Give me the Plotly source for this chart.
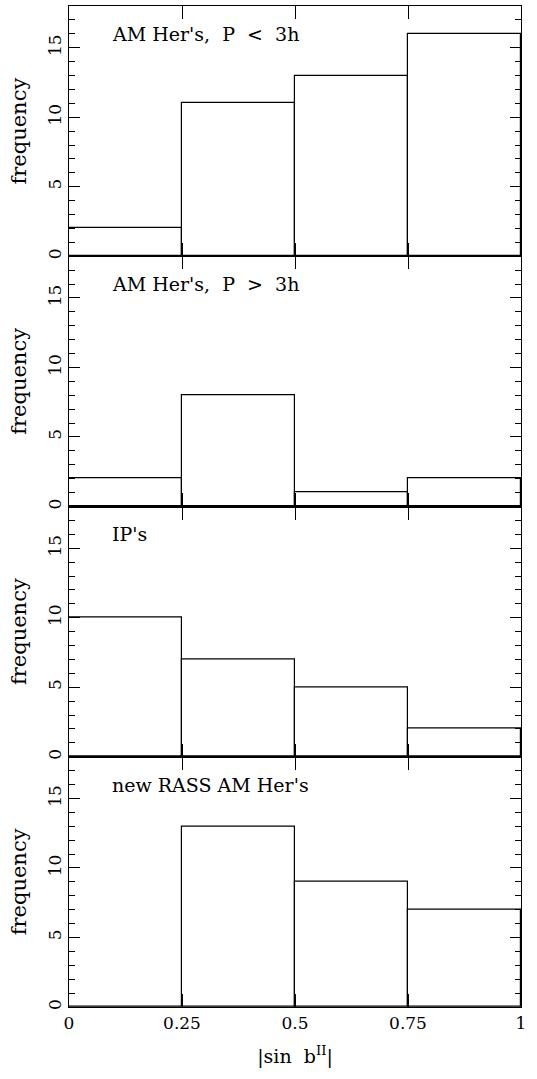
import plotly.graph_objects as go

bin_centers = [0.125, 0.375, 0.625, 0.875]
bin_width = 0.25
panel_labels = ["AM Her's,  P  <  3h", "AM Her's,  P  >  3h", "IP's", "new RASS AM Her's"]
counts_short = [2, 11, 13, 16]
counts_long = [2, 8, 1, 2]
counts_ip = [10, 7, 5, 2]
counts_rass = [0, 13, 9, 7]
all_counts = [counts_short, counts_long, counts_ip, counts_rass]
x_tickvals = [0, 0.25, 0.5, 0.75, 1]
x_ticktext = ["0", "0.25", "0.5", "0.75", "1"]
y_tickvals = [0, 5, 10, 15]

FONT = "DejaVu Serif"
W, H = 537, 1079
ML, MR, MT, MB = 69, 16, 6, 72

fig = go.Figure()
n = len(all_counts)
for i, counts in enumerate(all_counts):
    k = i + 1
    xa = "x" if k == 1 else f"x{k}"
    ya = "y" if k == 1 else f"y{k}"
    fig.add_trace(go.Bar(
        x=bin_centers, y=counts, width=bin_width,
        marker=dict(color="rgba(0,0,0,0)", line=dict(color="black", width=1.2)),
        xaxis=xa, yaxis=ya, showlegend=False, hoverinfo="skip",
    ))
    top = 1 - i / n
    bot = 1 - (i + 1) / n
    xkey = "xaxis" if k == 1 else f"xaxis{k}"
    ykey = "yaxis" if k == 1 else f"yaxis{k}"
    fig.layout[xkey] = dict(
        domain=[0, 1], anchor=ya, range=[0, 1],
        tickvals=x_tickvals, ticktext=x_ticktext,
        ticks="inside", ticklen=13, tickwidth=1, tickcolor="black",
        showline=True, linecolor="black", linewidth=1.2, mirror="ticks",
        showgrid=False, zeroline=False,
        showticklabels=(k == n),
        tickfont=dict(family=FONT, size=17, color="black"),
        matches=None if k == 1 else "x",
    )
    fig.layout[ykey] = dict(
        domain=[bot, top], anchor=xa, range=[0, 18],
        tickvals=y_tickvals, ticks="inside", ticklen=11, tickwidth=1, tickcolor="black",
        minor=dict(dtick=1, ticks="inside", ticklen=6, tickcolor="black", tickwidth=1),
        showline=True, linecolor="black", linewidth=1.2, mirror="ticks",
        showgrid=False, zeroline=False, tickangle=-90,
        tickfont=dict(family=FONT, size=17, color="black"),
        title=dict(text="frequency", font=dict(family=FONT, size=21, color="black"), standoff=12),
    )
    fig.add_annotation(
        x=0.09, y=16, xref=xa, yref=ya, text=panel_labels[i], showarrow=False,
        xanchor="left", yanchor="middle",
        font=dict(family=FONT, size=19, color="black"),
    )

fig.layout["xaxis4"]["title"] = dict(
    text="|sin  b<sup>II</sup>|", font=dict(family=FONT, size=19, color="black"), standoff=18)

fig.update_layout(
    width=W, height=H,
    margin=dict(l=ML, r=MR, t=MT, b=MB),
    paper_bgcolor="white", plot_bgcolor="white",
    bargap=0,
)
fig.write_html("out.html")
